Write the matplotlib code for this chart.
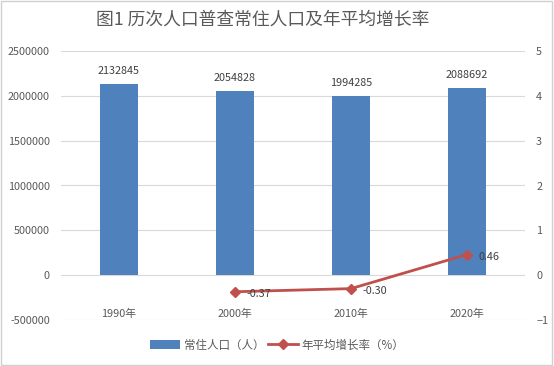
import matplotlib
matplotlib.use("Agg")
import matplotlib.pyplot as plt
from matplotlib.patches import Rectangle
from matplotlib.ticker import FuncFormatter
import numpy as np

plt.rcParams['font.family'] = ['Noto Sans CJK SC', 'DejaVu Sans']

# 数据
years = ["1990年", "2000年", "2010年", "2020年"]
population = [2132845, 2054828, 1994285, 2088692]
rate_years = ["2000年", "2010年", "2020年"]
growth_rate = [-0.37, -0.30, 0.46]
rate_labels = ["-0.37", "-0.30", "0.46"]

bar_color = '#4f81bd'
line_color = '#c0504d'
text_color = '#595959'
grid_color = '#d9d9d9'

fig = plt.figure(figsize=(5.54, 3.66), dpi=100, facecolor='white')
ax = fig.add_axes([61 / 554, 46 / 366, 464 / 554, 269 / 366])
ax2 = ax.twinx()

x = np.arange(len(years))
bars = ax.bar(x, population, width=0.32, color=bar_color, zorder=2, label='常住人口（人）')
for xi, v in zip(x, population):
    ax.text(xi, v + 90000, f"{v}", ha='center', va='bottom', fontsize=7.8, color='#404040')

ax.set_xlim(-0.5, len(years) - 0.5)
ax.set_ylim(-500000, 2500000)
ax.set_yticks(np.arange(-500000, 2500001, 500000))
ax.yaxis.set_major_formatter(FuncFormatter(lambda v, p: f"{int(v)}"))
ax.yaxis.grid(True, color=grid_color, linewidth=0.8, zorder=0)
ax.set_axisbelow(True)
ax.tick_params(axis='y', length=0, labelsize=7.8, labelcolor=text_color, pad=8)
ax.set_xticks(x, years)
ax.tick_params(axis='x', length=0, labelsize=7.8, labelcolor=text_color, pad=-1)
for lbl in ax.get_xticklabels():
    lbl.set_verticalalignment('bottom')
for s in ax.spines.values():
    s.set_visible(False)

rx = [years.index(y) for y in rate_years]
line, = ax2.plot(rx, growth_rate, color=line_color, linewidth=2, marker='D',
                 markersize=5, zorder=3, label='年平均增长率（%）')
for xi, v, lab in zip(rx, growth_rate, rate_labels):
    ax2.text(xi + 0.1, v - 0.05, lab, ha='left', va='center', fontsize=7.8, color='#404040')
ax2.set_ylim(-1, 5)
ax2.set_yticks(range(-1, 6))
ax2.tick_params(axis='y', length=0, labelsize=7.8, labelcolor=text_color, pad=8)
for s in ax2.spines.values():
    s.set_visible(False)

fig.text(0.474, 0.945, "图1 历次人口普查常住人口及年平均增长率", ha='center', va='center',
         fontsize=12.8, color=text_color, fontweight='light')

fig.legend(handles=[bars, line], loc='center', bbox_to_anchor=(0.5, 0.057), ncol=2,
           frameon=False, fontsize=8.3, labelcolor=text_color, handlelength=2.6,
           handleheight=0.8, columnspacing=0.3, handletextpad=0.3)

fig.add_artist(Rectangle((0.002, 0.003), 0.995, 0.994, transform=fig.transFigure,
                         fill=False, edgecolor='#d0d0d0', linewidth=1))

fig.savefig("out.png", dpi=100, facecolor='white')
